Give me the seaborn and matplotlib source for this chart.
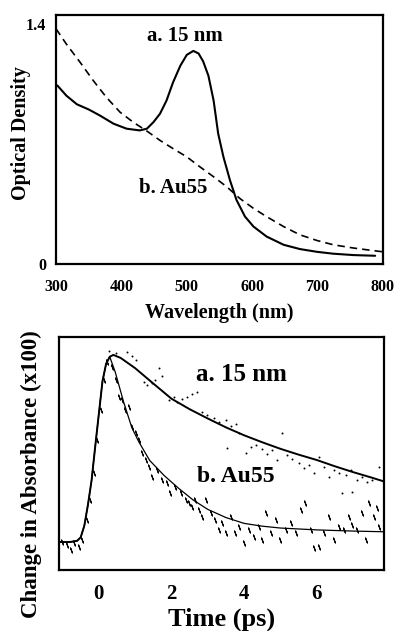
import matplotlib
matplotlib.use("Agg")
import matplotlib.pyplot as plt
import seaborn as sns

# ---- top panel: absorption spectra ----
wl_15nm = [302, 316, 332, 350, 367, 388, 408, 428, 439, 449, 459, 469, 479, 490,
           500, 510, 518, 525, 533, 541, 548, 556, 566, 576, 589, 602, 622, 648,
           673, 699, 724, 755, 788]
od_15nm = [1.04, 0.98, 0.93, 0.90, 0.865, 0.817, 0.788, 0.778, 0.788, 0.826, 0.875,
           0.952, 1.058, 1.154, 1.218, 1.241, 1.226, 1.18, 1.097, 0.952, 0.759,
           0.624, 0.488, 0.373, 0.276, 0.218, 0.160, 0.112, 0.087, 0.071, 0.060,
           0.052, 0.048]

wl_au55 = [300, 316, 337, 357, 377, 398, 418, 439, 459, 479, 500, 520, 541, 561,
           581, 602, 622, 648, 673, 699, 724, 755, 775, 800]
od_au55 = [1.37, 1.28, 1.174, 1.068, 0.971, 0.884, 0.826, 0.774, 0.720, 0.672,
           0.624, 0.566, 0.508, 0.450, 0.382, 0.324, 0.276, 0.218, 0.170, 0.137,
           0.112, 0.093, 0.083, 0.071]

# ---- bottom panel: transient absorption ----
t_fit_15nm = [-1.1, -0.8, -0.6, -0.5, -0.4, -0.3, -0.2, -0.1, 0.0, 0.1, 0.2, 0.3,
              0.4, 0.6, 1.0, 1.5, 2.0, 2.5, 3.0, 3.5, 4.0, 4.5, 5.0, 5.5, 6.0,
              6.5, 7.0, 7.5, 7.85]
y_fit_15nm = [0.12, 0.12, 0.125, 0.14, 0.19, 0.28, 0.385, 0.53, 0.67, 0.81, 0.885,
              0.915, 0.923, 0.91, 0.866, 0.80, 0.735, 0.69, 0.65, 0.612, 0.578,
              0.548, 0.52, 0.495, 0.472, 0.445, 0.42, 0.397, 0.38]

t_fit_au55 = [-1.1, -0.8, -0.6, -0.5, -0.4, -0.3, -0.2, -0.1, 0.0, 0.1, 0.2, 0.3,
              0.45, 0.68, 0.91, 1.1, 1.4, 1.8, 2.2, 2.6, 3.0, 3.5, 4.0, 4.5, 5.0,
              6.0, 7.0, 7.85]
y_fit_au55 = [0.12, 0.12, 0.125, 0.14, 0.19, 0.28, 0.385, 0.53, 0.67, 0.81, 0.885,
              0.915, 0.85, 0.722, 0.61, 0.55, 0.47, 0.405, 0.35, 0.30, 0.26, 0.225,
              0.20, 0.188, 0.18, 0.172, 0.167, 0.164]

t_pts_15nm = [0.28, 0.46, 0.78, 0.92, 1.01, 1.24, 1.33, 1.47, 1.56, 1.65, 1.74, 1.93,
              2.07, 2.16, 2.29, 2.43, 2.57, 2.71, 2.85, 2.98, 3.17, 3.31, 3.49, 3.63,
              3.77, 3.86, 3.54, 4.04, 4.18, 4.32, 4.50, 4.64, 4.77, 4.91, 5.05, 5.19,
              5.33, 5.51, 5.65, 5.79, 5.92, 6.06, 6.20, 6.34, 6.47, 6.61, 6.70, 6.80,
              6.93, 6.98, 7.12, 7.25, 7.39, 7.53, 7.71]
y_pts_15nm = [0.941, 0.930, 0.937, 0.918, 0.901, 0.808, 0.794, 0.801, 0.815, 0.866,
              0.833, 0.730, 0.744, 0.722, 0.733, 0.744, 0.755, 0.765, 0.679, 0.665,
              0.651, 0.637, 0.644, 0.618, 0.627, 0.587, 0.522, 0.501, 0.529, 0.536,
              0.518, 0.498, 0.515, 0.472, 0.587, 0.494, 0.475, 0.458, 0.436, 0.451,
              0.415, 0.486, 0.443, 0.400, 0.429, 0.415, 0.329, 0.408, 0.429, 0.336,
              0.386, 0.400, 0.379, 0.386, 0.443]

t_pts_au55 = [-1.01, -0.87, -0.78, -0.69, -0.55, -0.46, -0.32, -0.23, -0.14, -0.05,
              0.05, 0.14, 0.23, 0.37, 0.46, 0.55, 0.64, 0.73, 0.83, 0.92, 1.01, 1.10,
              1.19, 1.29, 1.38, 1.47, 1.61, 1.74, 1.88, 1.97, 2.11, 2.25, 2.39, 2.48,
              2.57, 2.66, 2.75, 2.85, 2.94, 3.08, 3.21, 3.31, 3.40, 3.49, 3.63, 3.76,
              3.86, 3.99, 4.13, 4.27, 4.41, 4.50, 4.59, 4.73, 4.87, 5.00, 5.14, 5.28,
              5.42, 5.56, 5.69, 5.83, 5.92, 6.06, 6.20, 6.34, 6.47, 6.61, 6.75, 6.89,
              6.98, 7.12, 7.25, 7.35, 7.44, 7.58, 7.67, 7.71]
y_pts_au55 = [0.122, 0.107, 0.086, 0.114, 0.100, 0.129, 0.215, 0.300, 0.415, 0.558,
              0.687, 0.815, 0.894, 0.873, 0.815, 0.744, 0.730, 0.687, 0.701, 0.615,
              0.587, 0.558, 0.501, 0.472, 0.443, 0.401, 0.429, 0.386, 0.372, 0.329,
              0.358, 0.329, 0.300, 0.286, 0.272, 0.300, 0.258, 0.229, 0.300, 0.243,
              0.215, 0.172, 0.200, 0.157, 0.229, 0.157, 0.186, 0.114, 0.172, 0.143,
              0.186, 0.129, 0.243, 0.157, 0.215, 0.129, 0.172, 0.200, 0.157, 0.258,
              0.286, 0.172, 0.093, 0.100, 0.157, 0.229, 0.129, 0.186, 0.172, 0.229,
              0.193, 0.172, 0.243, 0.129, 0.286, 0.229, 0.265, 0.186]

sns.set_theme(style="white")
plt.rcParams["font.family"] = ["Liberation Serif", "DejaVu Serif"]
plt.rcParams["font.weight"] = "bold"
plt.rcParams["text.color"] = "black"
plt.rcParams["axes.labelcolor"] = "black"
plt.rcParams["xtick.color"] = "black"
plt.rcParams["ytick.color"] = "black"

fig = plt.figure(figsize=(3.98, 6.31), dpi=100)
fig.patch.set_facecolor("white")

# top panel
ax1 = fig.add_axes([0.1407, 0.5816, 0.8216, 0.3946])
sns.lineplot(x=wl_15nm, y=od_15nm, ax=ax1, color="black", lw=1.5,
             sort=False, estimator=None)
sns.lineplot(x=wl_au55, y=od_au55, ax=ax1, color="black", lw=1.2,
             sort=False, estimator=None, linestyle=(0, (4.5, 3)))
ax1.set_xlim(300, 800)
ax1.set_ylim(0, 1.45)
ax1.set_xticks([300, 400, 500, 600, 700, 800])
ax1.set_yticks([0, 1.4])
ax1.set_yticklabels(["0", "1.4"])
ax1.tick_params(axis="x", direction="in", length=12, width=2, labelsize=11.5, pad=11)
ax1.tick_params(axis="y", length=0, labelsize=11.5, pad=7)
ax1.set_xlabel("Wavelength (nm)", fontsize=14.5, fontweight="bold")
ax1.xaxis.set_label_coords(0.5, -0.157)
ax1.set_ylabel("Optical Density", fontsize=14.5, fontweight="bold")
ax1.yaxis.set_label_coords(-0.076, 0.526)
ax1.text(497, 1.33, "a. 15 nm", fontsize=15, fontweight="bold", ha="center", va="center")
ax1.text(479, 0.44, "b. Au55", fontsize=15, fontweight="bold", ha="center", va="center")

# bottom panel
ax2 = fig.add_axes([0.148, 0.0967, 0.8166, 0.3693])
sns.scatterplot(x=t_pts_15nm, y=y_pts_15nm, ax=ax2, color="black", marker="o",
                s=2, linewidth=0)
sns.scatterplot(x=t_pts_au55, y=y_pts_au55, ax=ax2, marker=(2, 2, 20),
                s=14, color="black", edgecolor="black", linewidth=0.8)
sns.lineplot(x=t_fit_15nm, y=y_fit_15nm, ax=ax2, color="black", lw=1.4,
             sort=False, estimator=None)
sns.lineplot(x=t_fit_au55, y=y_fit_au55, ax=ax2, color="black", lw=0.9,
             sort=False, estimator=None)
ax2.set_xlim(-1.1, 7.85)
ax2.set_ylim(0, 1.0)
ax2.set_xticks([0, 2, 4, 6])
ax2.set_yticks([])
ax2.tick_params(axis="x", direction="in", length=8, width=2, labelsize=15, pad=10)
ax2.set_xlabel("Time (ps)", fontsize=19, fontweight="bold")
ax2.xaxis.set_label_coords(0.5, -0.163)
ax2.set_ylabel("Change in Absorbance (x100)", fontsize=16.5, fontweight="bold")
ax2.yaxis.set_label_coords(-0.052, 0.41)
ax2.text(3.94, 0.837, "a. 15 nm", fontsize=18, fontweight="bold", ha="center", va="center")
ax2.text(3.78, 0.40, "b. Au55", fontsize=17, fontweight="bold", ha="center", va="center")

for ax in (ax1, ax2):
    for sp in ax.spines.values():
        sp.set_color("black")
        sp.set_linewidth(1.6)
    ax.grid(False)

fig.savefig("out.png", dpi=100)
